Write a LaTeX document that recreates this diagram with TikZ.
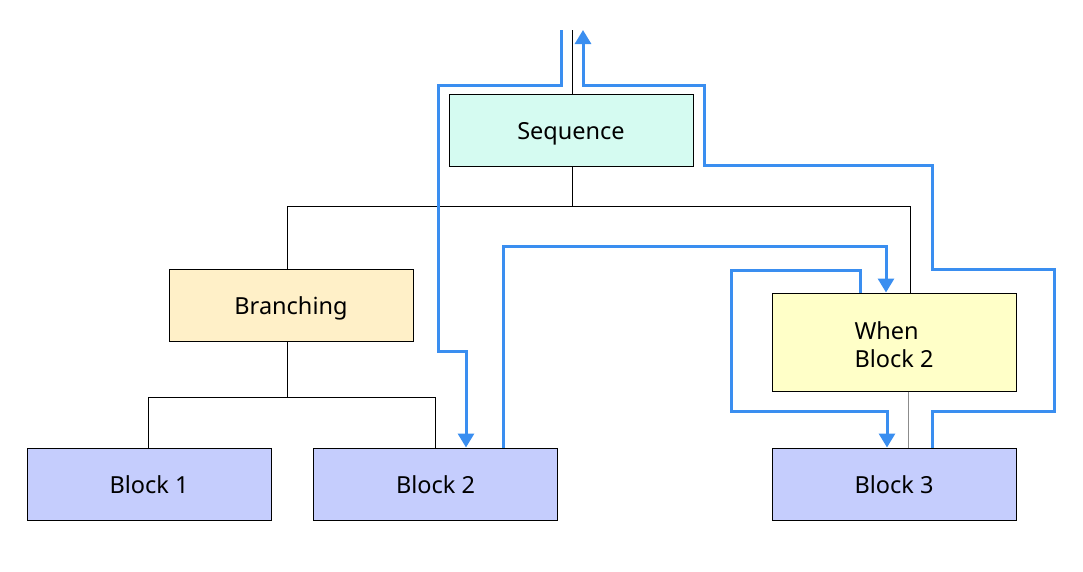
\documentclass[tikz,border=0pt]{standalone}
\usepackage{fontspec}
\setmainfont{Noto Sans}
\usetikzlibrary{arrows.meta}
\definecolor{flowblue}{RGB}{58,142,240}
\definecolor{seqfill}{RGB}{213,251,241}
\definecolor{brfill}{RGB}{255,240,200}
\definecolor{whenfill}{RGB}{255,255,200}
\definecolor{blkfill}{RGB}{197,205,253}
\tikzset{
  box/.style={draw=black, line width=1pt, minimum width=244pt, minimum height=72pt, inner sep=0pt, align=left, text height=18pt, text depth=0pt, font=\fontsize{23.5}{28}\selectfont},
  tree/.style={draw=black, line width=1pt},
  flow/.style={draw=flowblue, line width=3pt, -{Triangle[width=16pt,length=14pt]}},
}
\begin{document}
\begin{tikzpicture}[x=1pt,y=-1pt]
\useasboundingbox (0,0) rectangle (1083,571);
\node[box, fill=seqfill] (seq) at (571,130) {Sequence};
\node[box, fill=brfill] (br) at (291,305) {Branching};
\node[box, fill=whenfill, minimum height=98pt, text height=50pt, text depth=0pt] (wb) at (894,342) {When\\Block 2};
\node[box, fill=blkfill] (b1) at (149,484) {Block 1};
\node[box, fill=blkfill] (b2) at (435.5,484) {Block 2};
\node[box, fill=blkfill] (b3) at (894,484) {Block 3};
\coordinate (topc) at (572,30);
\coordinate (inL) at (561,30);
\coordinate (outR) at (583,30);
% tree lines
\draw[tree] ([xshift=1pt]seq.north) -- (topc);
\draw[tree] ([xshift=1pt]seq.south) -- ++(0,40) coordinate (j1);
\draw[tree] (j1) -| ([xshift=-4pt]br.north);
\draw[tree] (j1) -| ([xshift=16pt]wb.north);
\draw[tree] ([xshift=-4pt]br.south) -- ++(0,56) coordinate (j2);
\draw[tree] (j2) -| ([xshift=-1pt]b1.north);
\draw[tree] (j2) -| (b2.north);
\draw[draw=gray!90, line width=1pt] ([xshift=14pt]wb.south) -- ([xshift=14pt]b3.north);
% flows
\draw[flow] (inL) -- (561,85) -- (438,85) -- (438,351) -- (466,351) -- (466,0 |- b2.north);
\draw[flow] (503,0 |- b2.north) -- (503,246) -- (886,246) -- (886,0 |- wb.north);
\draw[flow] (860,0 |- wb.north) -- (860,270) -- (731,270) -- (731,411) -- (887,411) -- (887,0 |- b3.north);
\draw[flow] (932,0 |- b3.north) -- (932,411) -- (1054,411) -- (1054,269) -- (932,269) -- (932,165) -- (704,165) -- (704,85) -- (583,85) -- (outR);
\end{tikzpicture}
\end{document}
